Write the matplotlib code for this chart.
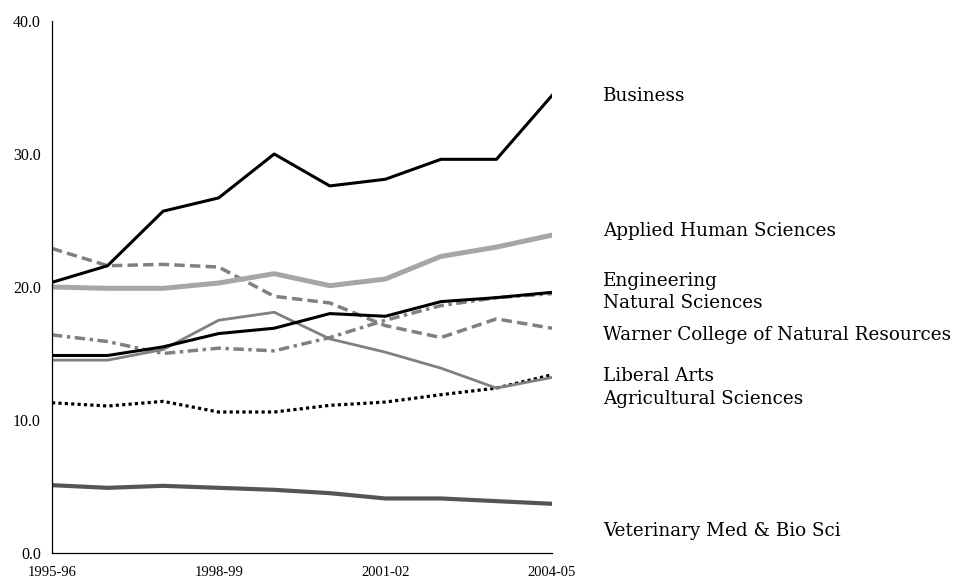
import matplotlib
matplotlib.use("Agg")
import matplotlib.pyplot as plt

years = ["1995-96", "1996-97", "1997-98", "1998-99", "1999-00",
         "2000-01", "2001-02", "2002-03", "2003-04", "2004-05"]
tick_years = ["1995-96", "1998-99", "2001-02", "2004-05"]

business = [20.35, 21.6, 25.7, 26.7, 30.0, 27.6, 28.1, 29.6, 29.6, 34.4]
applied_human = [20.0, 19.9, 19.9, 20.3, 21.0, 20.1, 20.6, 22.3, 23.0, 23.9]
engineering = [14.85, 14.85, 15.5, 16.5, 16.9, 18.0, 17.8, 18.9, 19.2, 19.6]
natural_sci = [16.4, 15.9, 15.0, 15.4, 15.2, 16.2, 17.5, 18.6, 19.2, 19.5]
warner = [22.9, 21.6, 21.7, 21.5, 19.3, 18.8, 17.1, 16.2, 17.6, 16.9]
liberal_arts = [14.5, 14.5, 15.3, 17.5, 18.1, 16.1, 15.1, 13.9, 12.4, 13.2]
agricultural = [11.3, 11.05, 11.4, 10.6, 10.6, 11.1, 11.35, 11.9, 12.4, 13.4]
veterinary = [5.1, 4.9, 5.05, 4.9, 4.75, 4.5, 4.1, 4.1, 3.9, 3.7]

labels = ["Business", "Applied Human Sciences", "Engineering", "Natural Sciences",
          "Warner College of Natural Resources", "Liberal Arts",
          "Agricultural Sciences", "Veterinary Med & Bio Sci"]
# label baseline positions (layout only)
label_pos = [33.98, 23.83, 20.08, 18.42, 16.02, 12.93, 11.2, 1.28]

fig = plt.figure(figsize=(9.58, 5.81), dpi=100)
ax = fig.add_axes([52/958, 28/581, 500/958, 532/581])

x = list(range(len(years)))
ax.plot(x, veterinary, color="#555555", lw=3.0)
ax.plot(x, agricultural, color="black", lw=2.3, linestyle=(0, (1, 1)))
ax.plot(x, liberal_arts, color="#808080", lw=2.0)
ax.plot(x, warner, color="#808080", lw=2.5, linestyle=(0, (3, 1.5)))
ax.plot(x, natural_sci, color="#808080", lw=2.5, linestyle=(0, (3, 1.3, 1, 1.3)))
ax.plot(x, engineering, color="black", lw=2.2)
ax.plot(x, applied_human, color="#a6a6a6", lw=3.6)
ax.plot(x, business, color="black", lw=2.2)

ax.set_xlim(0, 9)
ax.set_ylim(0, 40)
ax.set_yticks([0, 10, 20, 30, 40])
ax.set_yticklabels(["0.0", "10.0", "20.0", "30.0", "40.0"],
                   family="Liberation Serif", fontsize=11.5)
ax.set_xticks([years.index(t) for t in tick_years])
ax.set_xticklabels(tick_years, family="Liberation Serif", fontsize=10.5)
ax.tick_params(axis="y", length=0, pad=8)
ax.tick_params(axis="x", length=0, pad=9.5)
ax.spines["top"].set_visible(False)
ax.spines["right"].set_visible(False)
ax.spines["left"].set_linewidth(0.9)
ax.spines["bottom"].set_linewidth(0.9)

for lab, ly in zip(labels, label_pos):
    ax.text(9.92, ly, lab, family="DejaVu Serif", fontsize=13.2,
            va="baseline", ha="left", clip_on=False)

fig.savefig("out.png", dpi=100)
